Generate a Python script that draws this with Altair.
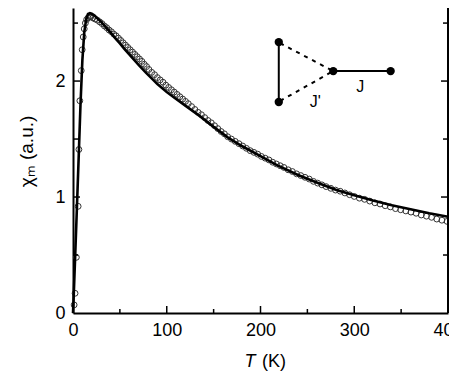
import altair as alt
import pandas as pd

# ---- data ----
fit_T = [0, 1, 2, 4, 6, 8, 10, 12, 14, 16, 18, 20, 23, 26, 30, 35, 40, 45, 50, 55, 60, 65, 70,
         78, 85, 90, 100, 110, 122, 135, 150, 165, 180, 200, 217, 240, 260, 281, 300, 320, 340,
         360, 380, 400]
fit_chi = [0, 0.2, 0.42, 0.87, 1.33, 1.80, 2.18, 2.42, 2.53, 2.578, 2.585, 2.58, 2.565, 2.54,
           2.51, 2.465, 2.42, 2.37, 2.325, 2.275, 2.23, 2.185, 2.14, 2.07, 2.015, 1.975, 1.905,
           1.845, 1.775, 1.70, 1.605, 1.515, 1.44, 1.352, 1.277, 1.19, 1.125, 1.06, 1.015, 0.97,
           0.93, 0.895, 0.86, 0.83]

obs_T = [1.2, 2.2, 3.6, 5.5, 6.3, 7.3, 8.8, 9.8, 10.9, 12, 13.2, 14.5, 16, 17.5, 19,
         21, 23.5, 26, 28.5, 31, 33.5, 36, 38.5, 41, 43.5, 46, 48.5, 51, 53.5, 56, 58.5, 61,
         63.5, 66, 68.5, 71, 73.5, 76, 78.5, 81, 84, 87, 90, 93, 96, 99, 102, 105, 108, 111,
         114, 117, 120, 123, 126.5, 130, 133.5, 137, 140.5, 144, 147.5, 151, 154.5, 158, 161.5,
         165, 169, 173, 177, 181, 185, 189, 193, 197, 201, 205, 209, 213, 217, 221, 225, 229.5,
         234, 238.5, 243, 247.5, 252, 256.5, 261, 265.5, 270, 275, 280, 285, 290, 295, 300,
         305.5, 311, 316.5, 322, 327.5, 333, 338.5, 344, 349.5, 355, 360.5, 366, 371.5, 377,
         382.5, 388, 393.5, 399]
obs_chi = [0.07, 0.17, 0.48, 0.92, 1.41, 1.83, 2.09, 2.27, 2.38, 2.45, 2.50, 2.53, 2.545, 2.555,
           2.555, 2.545, 2.535, 2.525, 2.51, 2.495, 2.475, 2.46, 2.44, 2.425, 2.405, 2.39, 2.37,
           2.35, 2.33, 2.31, 2.29, 2.27, 2.25, 2.23, 2.21, 2.19, 2.17, 2.145, 2.125, 2.10, 2.075,
           2.055, 2.03, 2.01, 1.99, 1.965, 1.945, 1.925, 1.905, 1.885, 1.865, 1.845, 1.825, 1.805,
           1.78, 1.755, 1.73, 1.71, 1.685, 1.66, 1.64, 1.615, 1.59, 1.565, 1.545, 1.52, 1.50,
           1.48, 1.46, 1.44, 1.42, 1.40, 1.385, 1.37, 1.35, 1.335, 1.32, 1.30, 1.285, 1.27,
           1.255, 1.235, 1.22, 1.20, 1.185, 1.17, 1.155, 1.135, 1.12, 1.105, 1.09, 1.075, 1.06,
           1.05, 1.035, 1.02, 1.005, 0.99, 0.98, 0.965, 0.95, 0.94, 0.925, 0.915, 0.90, 0.89,
           0.88, 0.87, 0.86, 0.845, 0.835, 0.825, 0.81, 0.80, 0.79]

x_labels = [0, 100, 200, 300, 400]
x_major = [100, 200, 300]
x_minor = [50, 150, 250, 350]
y_labels = [0, 1, 2]
y_major = [1, 2]
y_minor = [0.5, 1.5, 2.5]

# inset diagram (in data units)
dot_T = [219.5, 219.5, 277.6, 338.8]
dot_chi = [2.336, 1.819, 2.086, 2.086]
solid_T1 = [219.5, 277.6]
solid_chi1 = [2.336, 2.086]
solid_T2 = [219.5, 338.8]
solid_chi2 = [1.819, 2.086]
dash_T1 = [221.0, 221.0]
dash_chi1 = [2.326, 1.829]
dash_T2 = [277.6, 277.6]
dash_chi2 = [2.086, 2.086]
lab_text = ["J", "J'"]
lab_T = [306.3, 258.5]
lab_chi = [1.95, 1.82]

W, H = 375, 305
FONT = "Liberation Sans"

xs = alt.Scale(domain=[0, 400], nice=False)
ys = alt.Scale(domain=[0, 2.63], nice=False)
xax = alt.Axis(values=x_labels, format="d", title=None, ticks=False, grid=False,
               labelFontSize=18, labelFont=FONT, labelColor="black", labelPadding=8,
               domainColor="black", domainWidth=2, labelOverlap=False, labelFlush=False)
yax = alt.Axis(values=y_labels, format="d", title="χₘ (a.u.)", ticks=False, grid=False,
               labelFontSize=18, labelFont=FONT, labelColor="black", labelPadding=8,
               domainColor="black", domainWidth=2, titleFont=FONT, titleFontSize=19,
               titleFontWeight="normal", titleColor="black", titleAngle=270,
               titleX=-47, titleY=143, titleAlign="center", titleBaseline="middle")

def X(f):
    return alt.X(f, type="quantitative", scale=xs, axis=xax)

def Y(f):
    return alt.Y(f, type="quantitative", scale=ys, axis=yax)

obs = pd.DataFrame({"T": obs_T, "chi": obs_chi})
fit = pd.DataFrame({"T": fit_T, "chi": fit_chi})

pts = alt.Chart(obs).mark_point(shape="circle", filled=False, size=34, stroke="#333",
                                strokeWidth=1, opacity=1).encode(x=X("T"), y=Y("chi"))
line = alt.Chart(fit).mark_line(color="black", strokeWidth=2.6).encode(x=X("T"), y=Y("chi"))

xmaj = alt.Chart(pd.DataFrame({"v": x_major})).mark_rule(color="black", strokeWidth=1.5).encode(
    x=X("v"), y=alt.value(H), y2=alt.value(H - 7))
xmin = alt.Chart(pd.DataFrame({"v": x_minor})).mark_rule(color="black", strokeWidth=1.5).encode(
    x=X("v"), y=alt.value(H), y2=alt.value(H - 4))
ymaj = alt.Chart(pd.DataFrame({"v": y_major})).mark_rule(color="black", strokeWidth=1.5).encode(
    y=Y("v"), x=alt.value(0), x2=alt.value(7))
ymin = alt.Chart(pd.DataFrame({"v": y_minor})).mark_rule(color="black", strokeWidth=1.5).encode(
    y=Y("v"), x=alt.value(0), x2=alt.value(5))
rmaj = alt.Chart(pd.DataFrame({"v": y_major})).mark_rule(color="black", strokeWidth=1.5).encode(
    y=Y("v"), x=alt.value(W), x2=alt.value(W - 7))
rmin = alt.Chart(pd.DataFrame({"v": y_minor})).mark_rule(color="black", strokeWidth=1.5).encode(
    y=Y("v"), x=alt.value(W), x2=alt.value(W - 5))
right = alt.Chart(pd.DataFrame({"v": [0]})).mark_rule(color="black", strokeWidth=2).encode(
    x=alt.value(W), y=alt.value(0), y2=alt.value(H))

solid = alt.Chart(pd.DataFrame({"x1": solid_T1, "y1": solid_chi1, "x2": solid_T2, "y2": solid_chi2})
                  ).mark_rule(color="black", strokeWidth=2).encode(
    x=X("x1"), y=Y("y1"), x2="x2", y2="y2")
dashed = alt.Chart(pd.DataFrame({"x1": dash_T1, "y1": dash_chi1, "x2": dash_T2, "y2": dash_chi2})
                   ).mark_rule(color="black", strokeWidth=2, strokeDash=[4, 5]).encode(
    x=X("x1"), y=Y("y1"), x2="x2", y2="y2")
dots = alt.Chart(pd.DataFrame({"T": dot_T, "chi": dot_chi})).mark_circle(
    size=70, color="black", opacity=1).encode(x=X("T"), y=Y("chi"))
labs = alt.Chart(pd.DataFrame({"t": lab_text, "T": lab_T, "chi": lab_chi})).mark_text(
    font=FONT, fontSize=16, color="black", align="center", baseline="middle").encode(
    x=X("T"), y=Y("chi"), text="t:N")

t_it = alt.Chart(pd.DataFrame({"s": ["T"]})).mark_text(
    font=FONT, fontSize=18, fontStyle="italic", color="black", align="center",
    baseline="alphabetic").encode(x=alt.value(177), y=alt.value(359), text="s:N")
t_k = alt.Chart(pd.DataFrame({"s": ["(K)"]})).mark_text(
    font=FONT, fontSize=18, color="black", align="left",
    baseline="alphabetic").encode(x=alt.value(189), y=alt.value(359), text="s:N")

chart = alt.layer(pts, line, xmaj, xmin, ymaj, ymin, rmaj, rmin, right,
                  solid, dashed, dots, labs, t_it, t_k).properties(
    width=W, height=H,
    autosize=alt.AutoSizeParams(type="none"),
    padding={"left": 65, "top": 0, "right": 1, "bottom": 60},
    background="white",
).configure_view(strokeWidth=0)

chart.save("out.html", embed_options={"renderer": "svg", "actions": False})
